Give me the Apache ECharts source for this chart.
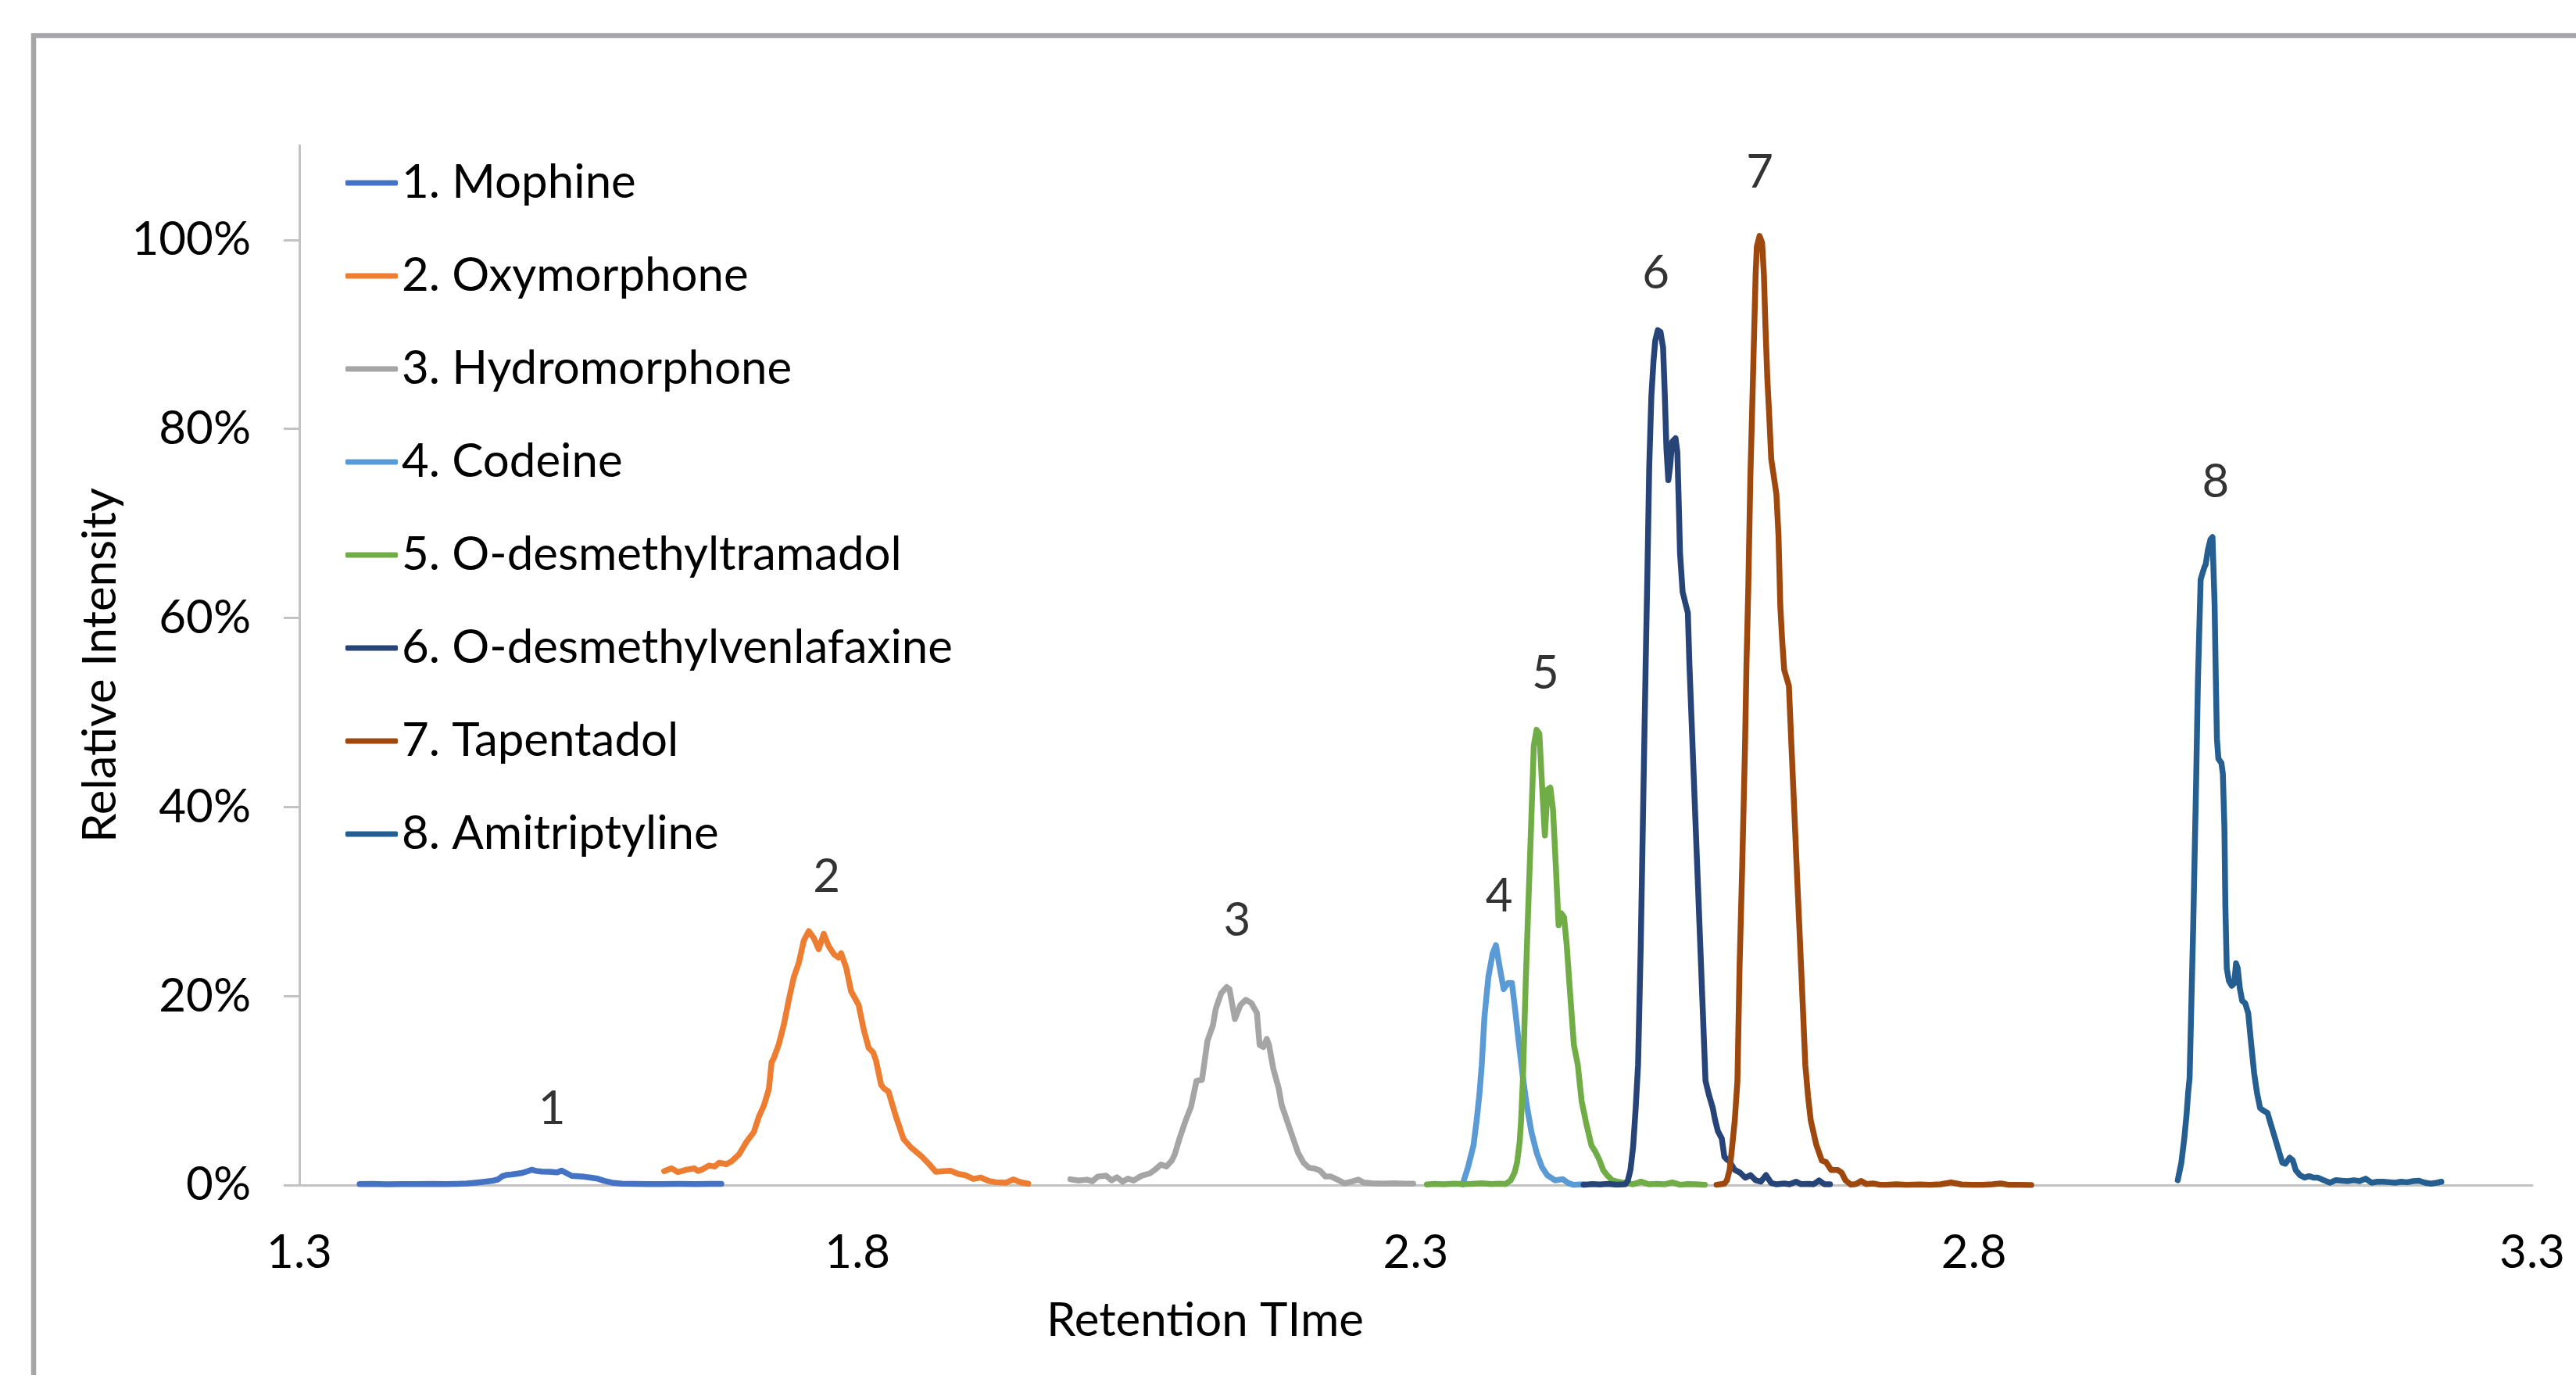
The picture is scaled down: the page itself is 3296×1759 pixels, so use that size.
<!DOCTYPE html>
<html><head><meta charset="utf-8">
<script src="https://cdn.jsdelivr.net/npm/echarts@6/dist/echarts.min.js"></script>
<style>html,body{margin:0;padding:0;background:#fff}#c{width:3296px;height:1759px}</style>
</head><body><div id="c"></div>
<script>
// ---------- data ----------
const seriesNames = ['1. Mophine','2. Oxymorphone','3. Hydromorphone','4. Codeine',
  '5. O-desmethyltramadol','6. O-desmethylvenlafaxine','7. Tapentadol','8. Amitriptyline'];

const mophine = [[1.354,0.001],[1.365,0.0012],[1.378,0.0009],[1.392,0.0011],[1.405,0.001],[1.418,0.0012],[1.431,0.001],[1.442,0.0013],[1.450,0.0016],[1.458,0.0025],[1.466,0.0035],[1.473,0.0045],[1.478,0.006],[1.482,0.0095],[1.486,0.0108],[1.490,0.0112],[1.495,0.012],[1.4995,0.0128],[1.504,0.0145],[1.508,0.0162],[1.512,0.015],[1.517,0.0142],[1.524,0.014],[1.531,0.0134],[1.535,0.0152],[1.539,0.0128],[1.544,0.0097],[1.550,0.0093],[1.555,0.0088],[1.561,0.0078],[1.567,0.0068],[1.573,0.0045],[1.580,0.0025],[1.589,0.0014],[1.600,0.0012],[1.611,0.001],[1.625,0.0011],[1.640,0.0012],[1.655,0.0011],[1.668,0.0012],[1.678,0.0012]];

const oxymorphone = [[1.6268,0.0147],[1.6334,0.0177],[1.6388,0.0138],[1.6430,0.0150],[1.6468,0.0162],[1.6536,0.0177],[1.6570,0.0150],[1.6603,0.0162],[1.6670,0.0206],[1.6720,0.0195],[1.6759,0.0236],[1.6826,0.0221],[1.6871,0.0251],[1.6938,0.0324],[1.7005,0.0457],[1.7071,0.0561],[1.7116,0.0723],[1.7161,0.0841],[1.7206,0.1018],[1.7230,0.1300],[1.7250,0.1343],[1.7295,0.1491],[1.7340,0.1698],[1.7385,0.1964],[1.7429,0.2200],[1.7473,0.2348],[1.7518,0.2584],[1.7563,0.2687],[1.7608,0.2614],[1.7652,0.2495],[1.7697,0.2658],[1.7742,0.2525],[1.7790,0.2440],[1.7830,0.2407],[1.7853,0.2452],[1.7898,0.2300],[1.7942,0.2050],[1.8010,0.1905],[1.8054,0.1650],[1.8100,0.1450],[1.8140,0.1403],[1.8166,0.1314],[1.8211,0.1060],[1.8240,0.1018],[1.8277,0.0989],[1.8344,0.0723],[1.8412,0.0487],[1.8478,0.0398],[1.8568,0.0309],[1.8634,0.0230],[1.8701,0.0140],[1.8769,0.0147],[1.8835,0.0150],[1.8902,0.0118],[1.8969,0.0103],[1.9036,0.0065],[1.9103,0.0080],[1.9171,0.0045],[1.9237,0.0030],[1.9327,0.0024],[1.9394,0.0059],[1.9461,0.0029],[1.9528,0.0014]];

const hydromorphone = [[1.9906,0.0061],[1.9980,0.0048],[2.0054,0.0057],[2.0103,0.0040],[2.0152,0.0090],[2.0226,0.0099],[2.0275,0.0050],[2.0324,0.0082],[2.0373,0.0036],[2.0422,0.0069],[2.0471,0.0048],[2.0545,0.0099],[2.0619,0.0124],[2.0668,0.0166],[2.0717,0.0217],[2.0766,0.0196],[2.0815,0.0259],[2.0840,0.0322],[2.0889,0.0512],[2.0938,0.0681],[2.0987,0.0829],[2.1036,0.1103],[2.1085,0.1112],[2.1134,0.1525],[2.1184,0.1694],[2.1208,0.1863],[2.1257,0.2031],[2.1306,0.2095],[2.1331,0.2074],[2.1380,0.1757],[2.1429,0.1905],[2.1478,0.1960],[2.1527,0.1926],[2.1577,0.1821],[2.1601,0.1483],[2.1635,0.1460],[2.1665,0.1546],[2.1685,0.1483],[2.1724,0.1230],[2.1773,0.1019],[2.1798,0.0850],[2.1847,0.0681],[2.1896,0.0512],[2.1945,0.0343],[2.1994,0.0238],[2.2043,0.0183],[2.2092,0.0175],[2.2142,0.0153],[2.2191,0.0090],[2.2240,0.0090],[2.2313,0.0048],[2.2363,0.0018],[2.2436,0.0040],[2.2485,0.0057],[2.2534,0.0027],[2.2608,0.0018],[2.2706,0.0014],[2.2805,0.0018],[2.2903,0.0014],[2.2977,0.0014]];

const codeine = [[2.3419,0.0006],[2.3468,0.0190],[2.3517,0.0420],[2.3545,0.0683],[2.3570,0.0960],[2.3591,0.1272],[2.3615,0.1778],[2.3650,0.2200],[2.3689,0.2453],[2.3718,0.2538],[2.3748,0.2327],[2.3787,0.2074],[2.3826,0.2137],[2.3861,0.2137],[2.3885,0.1905],[2.3925,0.1483],[2.3959,0.1145],[2.3993,0.0850],[2.4036,0.0560],[2.4083,0.0340],[2.4130,0.0190],[2.4177,0.0105],[2.4247,0.0050],[2.4317,0.0063],[2.4363,0.0022],[2.4410,0.0003],[2.4503,0.0008]];

const desmethyltramadol = [[2.3099,0.0006],[2.3170,0.0012],[2.3250,0.0008],[2.3345,0.0015],[2.3420,0.0010],[2.3500,0.0012],[2.3591,0.0018],[2.3680,0.0010],[2.3750,0.0014],[2.3803,0.0010],[2.3850,0.0050],[2.3885,0.0132],[2.3908,0.0243],[2.3931,0.0463],[2.3943,0.0683],[2.3959,0.1100],[2.3984,0.2116],[2.4008,0.2960],[2.4033,0.3804],[2.4057,0.4648],[2.4082,0.4817],[2.4107,0.4775],[2.4131,0.4226],[2.4156,0.3698],[2.4180,0.4184],[2.4205,0.4205],[2.4229,0.3973],[2.4254,0.3382],[2.4279,0.2749],[2.4303,0.2876],[2.4328,0.2833],[2.4352,0.2538],[2.4377,0.2116],[2.4416,0.1483],[2.4451,0.1272],[2.4485,0.0892],[2.4527,0.0650],[2.4573,0.0420],[2.4608,0.0353],[2.4643,0.0270],[2.4678,0.0160],[2.4713,0.0105],[2.4760,0.0050],[2.4807,0.0036],[2.4877,0.0022],[2.4947,0.0008],[2.5017,0.0036],[2.5087,0.0008],[2.5157,0.0012],[2.5227,0.0008],[2.5297,0.0028],[2.5367,0.0003],[2.5437,0.0010],[2.5507,0.0008],[2.5589,0.0003]];

const desmethylvenlafaxine = [[2.4503,0.0003],[2.4580,0.0010],[2.4650,0.0006],[2.4720,0.0012],[2.4800,0.0005],[2.4877,0.0008],[2.4900,0.0050],[2.4923,0.0160],[2.4947,0.0408],[2.4970,0.0820],[2.4991,0.1272],[2.5015,0.2538],[2.5040,0.4226],[2.5059,0.5508],[2.5075,0.6498],[2.5091,0.7605],[2.5110,0.8344],[2.5129,0.8713],[2.5145,0.8935],[2.5168,0.9045],[2.5192,0.9027],[2.5215,0.8861],[2.5231,0.8344],[2.5245,0.7790],[2.5262,0.7458],[2.5278,0.7605],[2.5297,0.7864],[2.5327,0.7901],[2.5343,0.7753],[2.5355,0.7236],[2.5367,0.6682],[2.5390,0.6276],[2.5413,0.6165],[2.5437,0.6054],[2.5451,0.5508],[2.5492,0.4250],[2.5531,0.3060],[2.5566,0.1990],[2.5595,0.1103],[2.5624,0.0960],[2.5659,0.0820],[2.5682,0.0683],[2.5705,0.0573],[2.5741,0.0491],[2.5764,0.0298],[2.5787,0.0270],[2.5810,0.0250],[2.5857,0.0160],[2.5904,0.0132],[2.5951,0.0077],[2.5998,0.0105],[2.6044,0.0050],[2.6091,0.0036],[2.6137,0.0105],[2.6184,0.0022],[2.6231,0.0008],[2.6301,0.0017],[2.6347,0.0008],[2.6406,0.0036],[2.6450,0.0010],[2.6520,0.0012],[2.6563,0.0008],[2.6612,0.0048],[2.6661,0.0008],[2.6710,0.0008]];

const tapentadol = [[2.5694,0.0003],[2.5740,0.0010],[2.5764,0.0015],[2.5787,0.0050],[2.5811,0.0160],[2.5834,0.0408],[2.5857,0.0683],[2.5881,0.1100],[2.5900,0.2300],[2.5924,0.3382],[2.5949,0.4648],[2.5962,0.5508],[2.5978,0.6300],[2.5997,0.7500],[2.6016,0.8344],[2.6032,0.9082],[2.6044,0.9636],[2.6055,0.9932],[2.6079,1.0042],[2.6102,0.9969],[2.6118,0.9636],[2.6132,0.9082],[2.6149,0.8529],[2.6165,0.8159],[2.6184,0.7679],[2.6207,0.7495],[2.6230,0.7310],[2.6249,0.6867],[2.6265,0.6128],[2.6282,0.5759],[2.6300,0.5450],[2.6330,0.5330],[2.6342,0.5281],[2.6366,0.4614],[2.6391,0.3943],[2.6415,0.3276],[2.6440,0.2610],[2.6465,0.1939],[2.6489,0.1272],[2.6514,0.0934],[2.6538,0.0681],[2.6587,0.0428],[2.6637,0.0259],[2.6674,0.0243],[2.6720,0.0160],[2.6779,0.0160],[2.6814,0.0132],[2.6849,0.0050],[2.6895,0.0005],[2.6942,0.0010],[2.6989,0.0044],[2.7035,0.0010],[2.7094,0.0017],[2.7150,0.0005],[2.7211,0.0003],[2.7304,0.0008],[2.7397,0.0003],[2.7514,0.0006],[2.7607,0.0003],[2.7701,0.0008],[2.7794,0.0028],[2.7888,0.0006],[2.7981,0.0003],[2.8074,0.0003],[2.8168,0.0008],[2.8238,0.0017],[2.8308,0.0003],[2.8401,0.0003],[2.8513,0.0001]];

const amitriptyline = [[2.9825,0.0051],[2.9857,0.0236],[2.9884,0.0500],[2.9905,0.0763],[2.9918,0.0974],[2.9931,0.1132],[2.9963,0.2715],[2.9990,0.4297],[3.0006,0.5352],[3.0030,0.6407],[3.0043,0.6460],[3.0064,0.6539],[3.0075,0.6566],[3.0096,0.6724],[3.0118,0.6830],[3.0136,0.6856],[3.0144,0.6840],[3.0155,0.6144],[3.0166,0.5352],[3.0176,0.4719],[3.0189,0.4509],[3.0216,0.4466],[3.0229,0.4350],[3.0243,0.3770],[3.0251,0.2979],[3.0264,0.2293],[3.0283,0.2161],[3.0309,0.2108],[3.0331,0.2135],[3.0347,0.2346],[3.0362,0.2293],[3.0381,0.2082],[3.0402,0.1950],[3.0429,0.1924],[3.0456,0.1818],[3.0482,0.1502],[3.0509,0.1185],[3.0535,0.0974],[3.0562,0.0816],[3.0589,0.0790],[3.0629,0.0763],[3.0655,0.0658],[3.0695,0.0500],[3.0735,0.0341],[3.0762,0.0236],[3.0788,0.0225],[3.0828,0.0289],[3.0855,0.0262],[3.0882,0.0157],[3.0921,0.0104],[3.0961,0.0078],[3.1001,0.0094],[3.1041,0.0078],[3.1081,0.0078],[3.1134,0.0051],[3.1188,0.0025],[3.1241,0.0051],[3.1294,0.0046],[3.1347,0.0041],[3.1401,0.0051],[3.1454,0.0041],[3.1507,0.0067],[3.1560,0.0025],[3.1614,0.0035],[3.1667,0.0035],[3.1720,0.0030],[3.1773,0.0025],[3.1826,0.0035],[3.1880,0.0030],[3.1933,0.0041],[3.1986,0.0046],[3.2039,0.0025],[3.2093,0.0015],[3.2146,0.0025],[3.2186,0.0035]];

const xTickValues = [1.3, 1.8, 2.3, 2.8, 3.3];
const yTickValues = [0, 0.2, 0.4, 0.6, 0.8, 1.0];
const peakNames = ['1','2','3','4','5','6','7','8'];
const peakX = [1.5262, 1.7723, 2.1399, 2.3747, 2.4162, 2.5150, 2.6081, 3.0164];
const peakY = [0.0806, 0.3264, 0.2799, 0.3052, 0.5409, 0.9644, 1.0715, 0.7436];
const xAxisTitle = 'Retention TIme';
const yAxisTitle = 'Relative Intensity';

// ---------- styles ----------
const colors = ['#4472C4','#ED7D31','#A5A5A5','#5B9BD5','#70AD47','#264478','#9E480E','#255E91'];
const FONT = 'Lato';
const FS = 60;
const seriesData = [mophine, oxymorphone, hydromorphone, codeine, desmethyltramadol, desmethylvenlafaxine, tapentadol, amitriptyline];

const chart = echarts.init(document.getElementById('c'), null, {renderer: 'canvas'});

const lineSeries = seriesNames.map((name, i) => ({
  name: name,
  type: 'line',
  data: seriesData[i],
  showSymbol: false,
  symbol: 'none',
  color: colors[i],
  lineStyle: {width: 7.5, color: colors[i], cap: 'round', join: 'round'},
  silent: true,
  z: 2 + i * 0.01
}));

const labelSeries = {
  name: 'peaks',
  type: 'scatter',
  symbolSize: 0,
  silent: true,
  data: peakNames.map((n, i) => ({name: n, value: [peakX[i], peakY[i]]})),
  label: {
    show: true, position: 'inside', formatter: p => p.name,
    fontFamily: FONT, fontSize: FS, color: '#000', align: 'center', verticalAlign: 'middle'
  },
  z: 5
};

chart.setOption({
  animation: false,
  backgroundColor: '#fff',
  grid: {left: 383, right: 56, top: 186, bottom: 243, containLabel: false},
  legend: {
    data: seriesNames.map((n, i) => ({name: n, icon: 'roundRect', itemStyle: {color: colors[i]}})),
    orient: 'vertical',
    left: 437, top: 197,
    padding: 5,
    itemWidth: 67, itemHeight: 7,
    itemGap: 55,
    textStyle: {fontFamily: FONT, fontSize: FS, color: '#000', lineHeight: 64},
    selectedMode: false
  },
  xAxis: {
    type: 'value', min: 1.3, max: 3.3,
    axisLine: {show: true, onZero: false, lineStyle: {color: '#C3C3C3', width: 3}},
    axisTick: {show: false},
    splitLine: {show: false},
    axisLabel: {
      customValues: xTickValues,
      formatter: v => v.toFixed(1),
      fontFamily: FONT, fontSize: FS, color: '#000', margin: 57
    }
  },
  yAxis: {
    type: 'value', min: 0, max: 1.1,
    axisLine: {show: true, lineStyle: {color: '#C3C3C3', width: 3}},
    axisTick: {show: true, customValues: yTickValues, length: 20, lineStyle: {color: '#C3C3C3', width: 3}},
    splitLine: {show: false},
    axisLabel: {
      customValues: yTickValues,
      formatter: v => Math.round(v * 100) + '%',
      fontFamily: FONT, fontSize: FS, color: '#000', margin: 62
    }
  },
  graphic: [
    {type: 'rect', z: -10, shape: {x: 43, y: 45.5, width: 3500, height: 2000},
     style: {fill: 'none', stroke: '#A6A6A9', lineWidth: 6.5}},
    {type: 'text', x: 1542, y: 1690, z: 10,
     style: {text: xAxisTitle, font: FS + 'px ' + FONT, fill: '#000', textAlign: 'center', textVerticalAlign: 'middle'}},
    {type: 'text', x: 129, y: 851, rotation: Math.PI / 2, z: 10,
     style: {text: yAxisTitle, font: FS + 'px ' + FONT, fill: '#000', textAlign: 'center', textVerticalAlign: 'middle'}}
  ],
  series: lineSeries.concat([labelSeries])
});
</script>
</body></html>
